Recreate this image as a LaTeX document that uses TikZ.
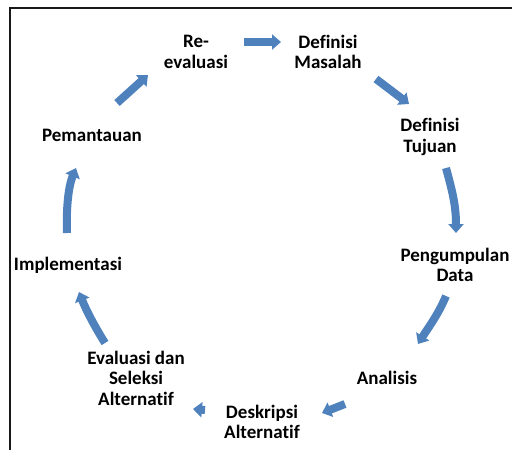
\documentclass[tikz,border=0pt]{standalone}
\usepackage{fontspec}
\setmainfont{Carlito}[Ligatures=NoCommon]
\usetikzlibrary{arrows.meta}
\definecolor{cycleblue}{HTML}{4F81BD}
\tikzset{
  stage/.style={font=\bfseries\fontsize{19pt}{20.5pt}\selectfont, align=center, inner sep=0pt, text=black},
  flow/.style={draw=cycleblue, line width=8pt, line cap=butt,
    -{Triangle[width=15pt,length=9pt]}},
}
\begin{document}
\begin{tikzpicture}[x=1pt,y=-1pt]
\useasboundingbox (0,0) rectangle (512,450);
% frame (only its top and left edges fall inside the page)
\draw[line width=2pt, black!90] (10,450) -- (10,8) -- (512,8);

% stages of the cycle
\node[stage] (reeval) at (196,52) {Re-\\evaluasi};
\node[stage] (defmas) at (328,52) {Definisi\\Masalah};
\node[stage] (deftuj) at (430,137) {Definisi\\Tujuan};
\node[stage] (pengum) at (455,265) {Pengumpulan\\Data};
\node[stage] (analis) at (387,378) {Analisis};
\node[stage] (deskri) at (262,422) {Deskripsi\\Alternatif};
\node[stage] (evasel) at (136,378) {Evaluasi dan\\Seleksi\\Alternatif};
\node[stage] (implem) at (68,265) {Implementasi};
\node[stage] (peman) at (92,135) {Pemantauan};

% arrow end points
\coordinate (a1s) at (244,42);  \coordinate (a1e) at (281,42);
\coordinate (a2s) at (376,79);  \coordinate (a2e) at (409,104);
\coordinate (a3s) at (446,168); \coordinate (a3e) at (456,233);
\coordinate (a4s) at (446,296); \coordinate (a4e) at (418,344);
\coordinate (a5s) at (345,404); \coordinate (a5e) at (322,413);
\coordinate (a6s) at (205,410); \coordinate (a6e) at (193,409);
\coordinate (a7s) at (105,343); \coordinate (a7e) at (79,292);
\coordinate (a8s) at (67,233);  \coordinate (a8e) at (76,168);
\coordinate (a9s) at (117,103); \coordinate (a9e) at (148,75);

% connectors
\draw[flow] (a1s) -- (a1e);
\draw[flow] (a2s) -- (a2e);
\draw[flow] (a3s) .. controls (452,190) and (456,205) .. (a3e);
\draw[flow] (a4s) .. controls (438,315) and (428,328) .. (a4e);
\draw[flow] (a5s) -- (a5e);
\draw[flow] (a6s) -- (a6e);
\draw[flow] (a7s) .. controls (95,327) and (86,310) .. (a7e);
\draw[flow] (a8s) .. controls (66,205) and (69,185) .. (a8e);
\draw[flow] (a9s) -- (a9e);
\end{tikzpicture}
\end{document}
